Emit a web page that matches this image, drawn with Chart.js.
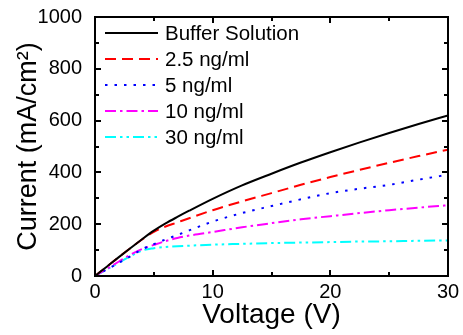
<!DOCTYPE html>
<html>
<head>
<meta charset="utf-8">
<script src="https://cdn.jsdelivr.net/npm/chart.js@4.4.1/dist/chart.umd.min.js"></script>
<style>
  html, body { margin: 0; padding: 0; background: #fff; }
</style>
</head>
<body>
<canvas id="ivChart" width="463" height="335"></canvas>
<script>
// --- data ---
const voltage   = [0, 1, 2, 3, 4, 5, 6, 7, 8, 10, 12.5, 15, 17.5, 20, 22.5, 25, 27.5, 30];
const bufferSol = [0, 36, 72, 107, 142, 175, 203, 228, 252, 298, 350, 395, 438, 478, 516, 552, 587, 620];
const ng2_5     = [0, 36, 72, 107, 141, 170, 191, 207, 223, 254, 288, 320, 352, 382, 410, 437, 463, 488];
const ng5       = [0, 25, 50, 76, 103, 123, 141, 158, 176, 210, 243, 270, 296, 320, 337, 352, 372, 391];
const ng10      = [0, 27, 55, 82, 104, 120, 135, 147, 156, 170, 188, 204, 219, 231, 243, 254, 264, 273];
const ng30      = [0, 25, 51, 76, 98, 107, 112, 115, 117, 121, 124, 127, 129, 131, 133, 134, 136, 137];
const seriesNames = ['Buffer Solution', '2.5 ng/ml', '5 ng/ml', '10 ng/ml', '30 ng/ml'];
const xTicks = [0, 10, 20, 30];
const yTicks = [0, 200, 400, 600, 800, 1000];

const FONT = "'Liberation Sans', Arial, sans-serif";

function toPoints(ys) {
    return voltage.map((v, i) => ({ x: v, y: ys[i] }));
}

function makeSet(label, ys, color, dash) {
    return {
        label: label,
        data: toPoints(ys),
        borderColor: color,
        borderWidth: 2,
        borderDash: dash,
        pointRadius: 0,
        cubicInterpolationMode: 'monotone',
        fill: false
    };
}

// frame round the plot with inward ticks on all four sides
const framePlugin = {
    id: 'frame',
    afterDatasetsDraw(chart) {
        const ctx = chart.ctx;
        const a = chart.chartArea;
        const xs = chart.scales.x;
        const ys = chart.scales.y;
        ctx.save();
        ctx.strokeStyle = '#000';
        ctx.lineWidth = 2;
        ctx.setLineDash([]);
        ctx.strokeRect(a.left, a.top, a.right - a.left, a.bottom - a.top);
        ctx.beginPath();
        for (let v = 0; v <= 30; v += 5) {
            const px = Math.round(xs.getPixelForValue(v));
            const len = (v % 10 === 0) ? 6 : 4;
            ctx.moveTo(px, a.bottom); ctx.lineTo(px, a.bottom - len);
            ctx.moveTo(px, a.top); ctx.lineTo(px, a.top + len);
        }
        for (let v = 0; v <= 1000; v += 100) {
            const py = Math.round(ys.getPixelForValue(v));
            const len = (v % 200 === 0) ? 6 : 4;
            ctx.moveTo(a.left, py); ctx.lineTo(a.left + len, py);
            ctx.moveTo(a.right, py); ctx.lineTo(a.right - len, py);
        }
        ctx.stroke();
        ctx.restore();
    }
};

// legend drawn inside the plot, top left
const legendPlugin = {
    id: 'insideLegend',
    afterDatasetsDraw(chart) {
        const ctx = chart.ctx;
        const x0 = 105, x1 = 158, textX = 165;
        const y0 = 33, step = 25.9;
        ctx.save();
        ctx.font = '20.5px ' + FONT;
        ctx.textBaseline = 'middle';
        ctx.fillStyle = '#000';
        chart.data.datasets.forEach((ds, i) => {
            const y = Math.round(y0 + i * step);
            ctx.strokeStyle = ds.borderColor;
            ctx.lineWidth = ds.borderWidth;
            ctx.setLineDash(ds.borderDash || []);
            ctx.beginPath();
            ctx.moveTo(x0, y);
            ctx.lineTo(x1, y);
            ctx.stroke();
            ctx.fillText(ds.label, textX, y + 1);
        });
        ctx.restore();
    }
};

new Chart(document.getElementById('ivChart'), {
    type: 'line',
    data: {
        datasets: [
            makeSet(seriesNames[0], bufferSol, '#000000', []),
            makeSet(seriesNames[1], ng2_5, '#ff0000', [11, 6]),
            makeSet(seriesNames[2], ng5, '#0000ff', [2.5, 7]),
            makeSet(seriesNames[3], ng10, '#ff00ff', [11, 4, 2.5, 4]),
            makeSet(seriesNames[4], ng30, '#00ffff', [11, 4, 2.5, 4, 2.5, 4])
        ]
    },
    options: {
        responsive: false,
        animation: false,
        devicePixelRatio: 1,
        layout: { padding: { top: 14, right: 15, left: 0, bottom: 0 } },
        plugins: {
            legend: { display: false },
            tooltip: { enabled: false }
        },
        scales: {
            x: {
                type: 'linear',
                min: 0, max: 30,
                afterBuildTicks(s) { s.ticks = xTicks.map(v => ({ value: v })); },
                afterFit(s) { s.height = 59; },
                grid: { display: false },
                border: { display: false },
                ticks: { color: '#000', padding: -4, maxRotation: 0, font: { family: FONT, size: 20 },
                         callback: v => String(v) },
                title: { display: true, text: 'Voltage (V)', color: '#000', padding: { top: 0, bottom: 3 },
                         font: { family: FONT, size: 28 } }
            },
            y: {
                min: 0, max: 1000,
                afterBuildTicks(s) { s.ticks = yTicks.map(v => ({ value: v })); },
                afterFit(s) { s.width = 95; },
                grid: { display: false },
                border: { display: false },
                ticks: { color: '#000', padding: 5, font: { family: FONT, size: 20 },
                         callback: v => String(v) },
                title: { display: true, text: 'Current (mA/cm²)', color: '#000', padding: { top: 12, bottom: 0 },
                         font: { family: FONT, size: 27 } }
            }
        }
    },
    plugins: [framePlugin, legendPlugin]
});
</script>
</body>
</html>
